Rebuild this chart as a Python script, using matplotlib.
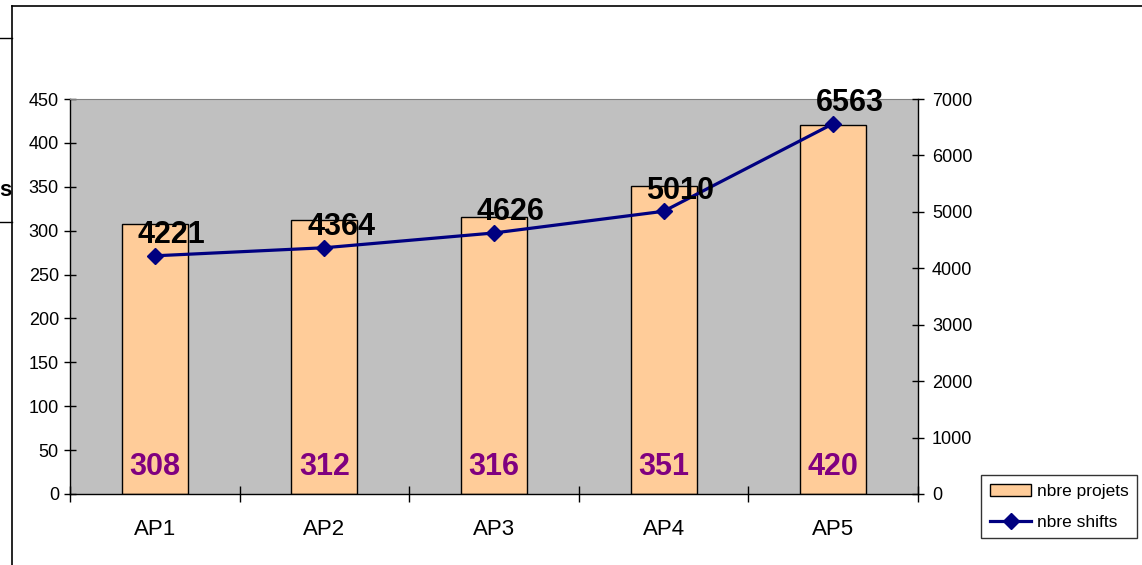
import matplotlib
matplotlib.use("Agg")
import matplotlib.pyplot as plt
from matplotlib.lines import Line2D

plt.rcParams['font.family'] = ['Liberation Sans', 'DejaVu Sans']

categories = ['AP1', 'AP2', 'AP3', 'AP4', 'AP5']
projets = [308, 312, 316, 351, 420]
shifts = [4221, 4364, 4626, 5010, 6563]

W, H = 1142, 565
fig = plt.figure(figsize=(W / 100, H / 100), dpi=100)

# plot area in pixel coords of the reference
ax = fig.add_axes([70 / W, 1 - 494 / H, 848 / W, 395 / H])
ax.set_facecolor('#C0C0C0')
x = list(range(len(categories)))

bars = ax.bar(x, projets, width=0.39, color='#FFCC99', edgecolor='black',
              linewidth=1, zorder=2, label='nbre projets')
ax.set_xlim(-0.5, len(categories) - 0.5)
ax.set_ylim(0, 450)
ax.set_yticks(range(0, 451, 50))
ax.set_xticks(x)
ax.set_xticklabels(categories, fontsize=16)
ax.set_xticks([i - 0.5 for i in range(len(categories) + 1)], minor=True)
ax.tick_params(axis='x', which='major', length=0, pad=18)
ax.tick_params(axis='x', which='minor', direction='inout', length=11, width=1)
ax.tick_params(axis='y', direction='inout', length=8, width=1, labelsize=13, pad=4)

for s in ['left', 'bottom']:
    ax.spines[s].set_linewidth(1)
ax.spines['top'].set_color('#808080')
ax.spines['right'].set_visible(False)

for xi, v in zip(x, projets):
    ax.annotate(str(v), (xi, 0), xytext=(0, 14), textcoords='offset points',
                ha='center', va='baseline', fontsize=22, fontweight='bold',
                color='#800080', zorder=5)

ax2 = ax.twinx()
ax2.plot(x, shifts, color='#000080', linewidth=2.3, marker='D',
         markersize=8, zorder=3)
ax2.set_ylim(0, 7000)
ax2.set_yticks(range(0, 7001, 1000))
ax2.tick_params(axis='y', direction='inout', length=8, width=1, labelsize=13, pad=6)
ax2.spines['right'].set_linewidth(1)
ax2.spines['top'].set_visible(False)
ax2.spines['left'].set_visible(False)
ax2.spines['bottom'].set_visible(False)

for xi, v in zip(x, shifts):
    ax2.annotate(str(v), (xi, v), xytext=(12, 9), textcoords='offset points',
                 ha='center', va='baseline', fontsize=22, fontweight='bold',
                 color='black', zorder=6)

# legend
handles = [bars,
           Line2D([], [], color='#000080', linewidth=2.3, marker='D', markersize=8)]
leg = fig.legend(handles, ['nbre projets', 'nbre shifts'], loc='upper left',
                 bbox_to_anchor=(981 / W, 1 - 475 / H), borderaxespad=0,
                 fontsize=12.5, frameon=True, fancybox=False, edgecolor='black',
                 handlelength=2.4, labelspacing=0.9, handletextpad=0.3,
                 borderpad=0.5)
leg.get_frame().set_linewidth(1)

# outer chart frame and leftover bits from the page
fig.add_artist(Line2D([12 / W, 1], [1 - 6 / H, 1 - 6 / H], color='black', lw=1.2,
                      transform=fig.transFigure))
fig.add_artist(Line2D([12 / W, 12 / W], [0, 1 - 6 / H], color='black', lw=1.2,
                      transform=fig.transFigure))
for yy in [38, 222]:
    fig.add_artist(Line2D([0, 12 / W], [1 - yy / H, 1 - yy / H], color='black',
                          lw=1, transform=fig.transFigure))
fig.text(11 / W, 1 - 190 / H, 's', ha='right', va='center', fontsize=16,
         fontweight='bold')

fig.savefig('out.png', dpi=100)
